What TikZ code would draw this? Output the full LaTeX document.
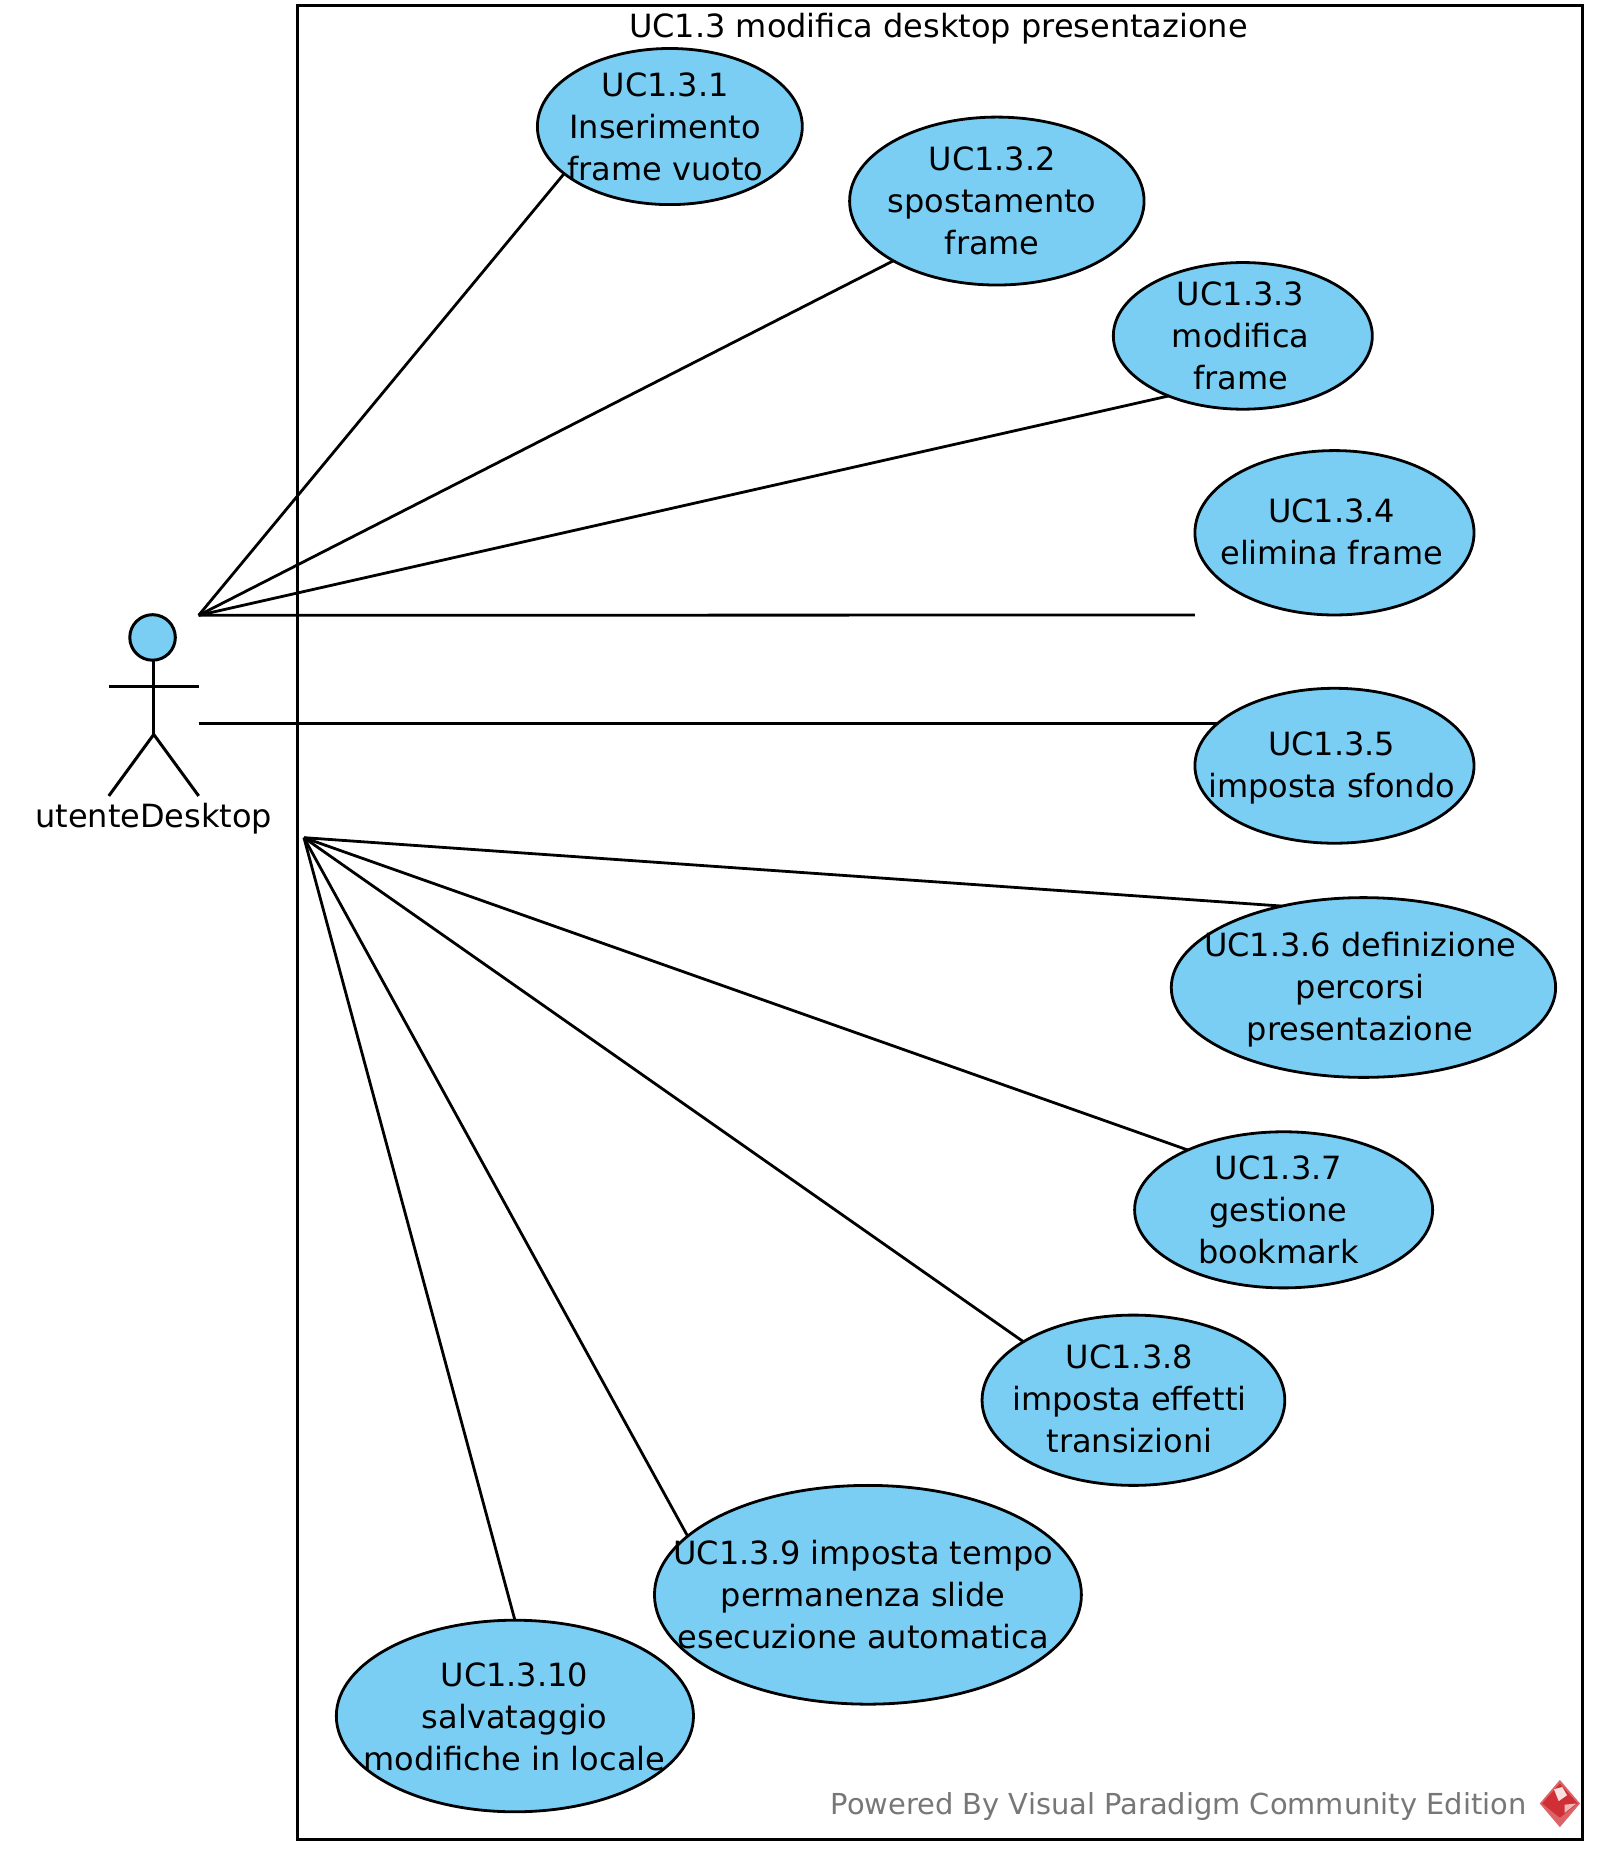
\documentclass[tikz,border=0pt]{standalone}
\usepackage{fontspec}
\setmainfont{DejaVu Sans}
\usetikzlibrary{shapes.geometric}
\definecolor{ucblue}{HTML}{7ACEF4}
\definecolor{wmgray}{HTML}{777777}
\definecolor{logored}{HTML}{D03035}
\tikzset{
  px/.style={x=0.5913pt,y=-0.5913pt},
  usecase/.style 2 args={ellipse,draw=black,fill=ucblue,line width=1.4pt,inner sep=0pt,outer sep=0pt,
    minimum width=#1*0.5913pt,minimum height=#2*0.5913pt},
  uctext/.style={align=center,inner sep=0pt,font=\fontsize{16}{21}\selectfont},
  assoc/.style={draw=black,line width=1.4pt},
  stick/.style={draw=black,line width=1.5pt,line cap=butt},
}
\begin{document}
\begin{tikzpicture}[px]
\useasboundingbox (0,0) rectangle (1349.6,1567.7);
\fill[white] (0,0) rectangle (1349.6,1567.7);
% system boundary
\node[draw=black,line width=1.5pt,fill=white,inner sep=0pt,outer sep=0pt,
  minimum width=1086.5*0.5913pt,minimum height=1550*0.5913pt] (frame) at (794.8,780) {};
\node[uctext] (title) at (793.5,24.5) {UC1.3 modifica desktop presentazione};
% actor
\node[circle,draw=black,fill=ucblue,line width=1.5pt,inner sep=0pt,outer sep=0pt,minimum size=38.5*0.5913pt] (head) at (129,539) {};
\coordinate (hip) at (130,621);
\coordinate (armL) at (92,580.5);
\coordinate (armR) at (168,580.5);
\coordinate (footL) at (92,673);
\coordinate (footR) at (168,673);
\draw[stick] (head.south) ++(1,0) -- (hip);
\draw[stick] (armL) -- (armR);
\draw[stick] (footL) -- (hip) -- (footR);
\node[uctext] (actor) at (130,692.5) {utenteDesktop};
\coordinate (a1) at (168,520.3);
\coordinate (a2) at (168,612);
\coordinate (a3) at (257,708.3);
% use cases
\node[usecase={224}{132}] (uc1) at (566.4,107) {};
\node[usecase={249}{142}] (uc2) at (842.9,170) {};
\node[usecase={219}{124}] (uc3) at (1050.9,284) {};
\node[usecase={236}{139}] (uc4) at (1128.4,450.5) {};
\node[usecase={236}{131}] (uc5) at (1128.4,647.5) {};
\node[usecase={325}{152}] (uc6) at (1152.9,835) {};
\node[usecase={252}{132}] (uc7) at (1085.4,1023) {};
\node[usecase={256}{144}] (uc8) at (958.4,1184) {};
\node[usecase={361}{185}] (uc9) at (733.9,1348.5) {};
\node[usecase={302}{162}] (uc10) at (435.4,1451) {};
\coordinate (uc4end) at (uc4.west |- uc4.south);
% associations
\draw[assoc] (a1) -- (uc1.204.6);
\draw[assoc] (a1) -- (uc2.210.5);
\draw[assoc] (a1) -- (uc3.219.8);
\draw[assoc] (a1) -- (uc4end);
\draw[assoc] (a2) -- (a2 -| uc5.160.1);
\draw[assoc] (a3) -- (uc6.135.6);
\draw[assoc] (a3) -- (uc7.148.8);
\draw[assoc] (a3) -- (uc8.152.7);
\draw[assoc] (a3) -- (uc9.162.8);
\draw[assoc] (a3) -- (uc10.90);
% labels
\node[uctext] (t1) at (562.5,107) {UC1.3.1\\Inserimento\\frame vuoto};
\node[uctext] (t2) at (839,170) {UC1.3.2\\spostamento\\frame};
\node[uctext] (t3) at (1049,284) {UC1.3.3\\modifica\\frame};
\node[uctext] (t4) at (1126,449.5) {UC1.3.4\\elimina frame};
\node[uctext] (t5) at (1126,649) {UC1.3.5\\imposta sfondo};
\node[uctext] (t6) at (1150,837) {UC1.3.6 definizione\\percorsi\\presentazione};
\node[uctext] (t7) at (1081,1023) {UC1.3.7\\gestione\\bookmark};
\node[uctext] (t8) at (955,1183) {UC1.3.8\\imposta effetti\\transizioni};
\node[uctext] (t9) at (730,1348) {UC1.3.9 imposta tempo\\permanenza slide\\esecuzione automatica};
\node[uctext] (t10) at (435,1452) {UC1.3.10\\salvataggio\\modifiche in locale};
% watermark
\node[uctext,text=wmgray,font=\fontsize{14.45}{21}\selectfont,anchor=east] (wm) at (1291,1527.5) {Powered By Visual Paradigm Community Edition};
\fill[logored!75!white] (1319,1505) -- (1336,1525) -- (1319,1545) -- (1302,1525) -- cycle;
\fill[logored] (1319,1508) -- (1334,1525) -- (1319,1537) -- (1304,1525) -- cycle;
\fill[white!85!logored] (1314,1513) -- (1321,1511) -- (1325,1518) -- (1318,1523) -- cycle;
\fill[white!65!logored] (1323,1526) -- (1333,1525) -- (1323,1533) -- cycle;
\end{tikzpicture}
\end{document}
